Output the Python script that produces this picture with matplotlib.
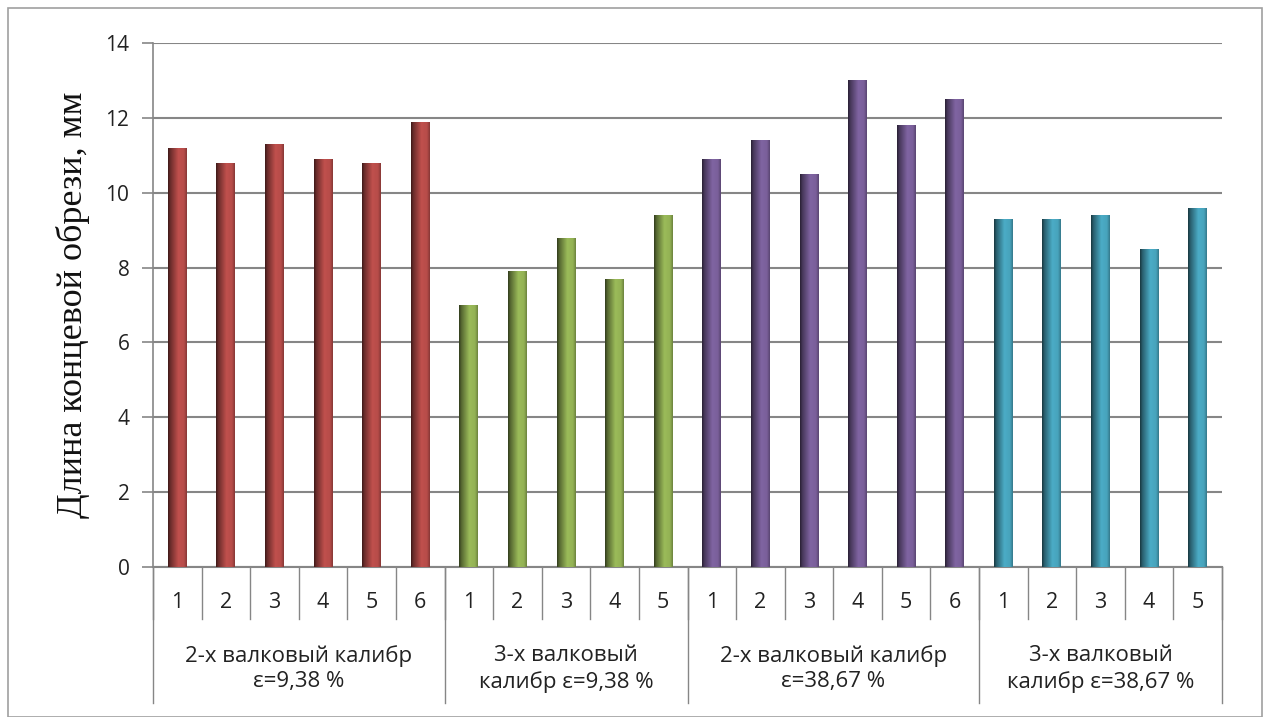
import numpy as np
import matplotlib
matplotlib.use("Agg")
import matplotlib.pyplot as plt
from matplotlib.colors import to_rgb
from matplotlib.transforms import blended_transform_factory
from matplotlib.patches import Rectangle

# Data
group_labels = ["2-х валковый калибр\nε=9,38 %",
                "3-х валковый\nкалибр ε=9,38 %",
                "2-х валковый калибр\nε=38,67 %",
                "3-х валковый\nкалибр ε=38,67 %"]
group_values = [
    [11.2, 10.8, 11.3, 10.9, 10.8, 11.9],
    [7.0, 7.9, 8.8, 7.7, 9.4],
    [10.9, 11.4, 10.5, 13.0, 11.8, 12.5],
    [9.3, 9.3, 9.4, 8.5, 9.6],
]
group_colors = ["#C0504D", "#9BBB59", "#8064A2", "#4BACC6"]
y_ticks = [0, 2, 4, 6, 8, 10, 12, 14]
y_label = "Длина концевой обрези, мм"

sans = "Open Sans"
serif = "Liberation Serif"

fig = plt.figure(figsize=(12.7, 7.17), dpi=100)
fig.patch.set_facecolor("white")
ax = fig.add_axes([153 / 1270, 1 - 567 / 717, (1222 - 153) / 1270, (567 - 43) / 717])

# Outer chart border
fig.add_artist(Rectangle((8 / 1270, 0.0), 1254 / 1270, 1 - 8 / 717,
                         transform=fig.transFigure, fill=False,
                         edgecolor="#a0a0a0", linewidth=1.2))

n_total = sum(len(v) for v in group_values)
x_pos = np.arange(n_total)
width = 0.39

# cylinder-like shading profile across each bar
t = np.linspace(0, 1, 64)
shade = np.interp(t, [0, 0.12, 0.55, 0.85, 1.0], [0.32, 0.55, 1.0, 0.95, 0.7])

idx = 0
tick_texts = []
boundaries = [-0.5]
centers = []
for vals, col in zip(group_values, group_colors):
    xs = x_pos[idx: idx + len(vals)]
    bars = ax.bar(xs, vals, width=width, color=col, zorder=3, linewidth=0)
    base = np.array(to_rgb(col))
    grad = np.clip(base[None, :] * shade[:, None], 0, 1)[None, :, :]
    for b in bars:
        x0 = b.get_x()
        im = ax.imshow(grad, extent=(x0, x0 + b.get_width(), 0, b.get_height()),
                       aspect="auto", zorder=4, interpolation="bilinear")
        im.set_clip_path(b)
    tick_texts += [str(i + 1) for i in range(len(vals))]
    centers.append((xs[0] + xs[-1]) / 2)
    idx += len(vals)
    boundaries.append(idx - 0.5)

ax.set_xlim(-0.5, n_total - 0.5)
ax.set_ylim(0, 14)
ax.set_yticks(y_ticks)
ax.set_yticklabels([str(v) for v in y_ticks], fontfamily=sans, fontsize=15, color="#222222")
ax.tick_params(axis="y", length=8, width=1.2, color="#868686", pad=9, direction="out")
ax.set_xticks([])
ax.yaxis.grid(True, color="#868686", linewidth=1.5, zorder=1)
ax.set_axisbelow(True)
for s in ["top", "right"]:
    ax.spines[s].set_visible(False)
ax.spines["left"].set_color("#868686")
ax.spines["left"].set_linewidth(1.2)
ax.spines["bottom"].set_color("#868686")
ax.spines["bottom"].set_linewidth(1.5)

ax.set_ylabel(y_label, fontfamily=serif, fontsize=26, color="#111111", va="center")
ax.yaxis.set_label_coords(73 / 1270, 1 - 305 / 717, transform=fig.transFigure)

# Category axis: numbers, separators and group captions below the axis
trans = blended_transform_factory(ax.transData, ax.transAxes)
h_px = 567 - 43
def yfrac(py):
    return (567 - py) / h_px

for x, lab in zip(x_pos, tick_texts):
    ax.text(x, yfrac(602), lab, transform=trans, ha="center", va="center",
            fontfamily=sans, fontsize=15.5, color="#222222")
for x in np.arange(-0.5, n_total, 1.0):
    ax.plot([x, x], [0, yfrac(619)], transform=trans, color="#868686",
            linewidth=1.0, clip_on=False)
for x in boundaries:
    ax.plot([x, x], [0, yfrac(703)], transform=trans, color="#868686",
            linewidth=1.0, clip_on=False)
for c, lab in zip(centers, group_labels):
    ax.text(c, yfrac(669), lab, transform=trans, ha="center", va="center",
            fontfamily=sans, fontsize=16, color="#222222", linespacing=1.25)

fig.savefig("out.png", dpi=100, facecolor="white")
